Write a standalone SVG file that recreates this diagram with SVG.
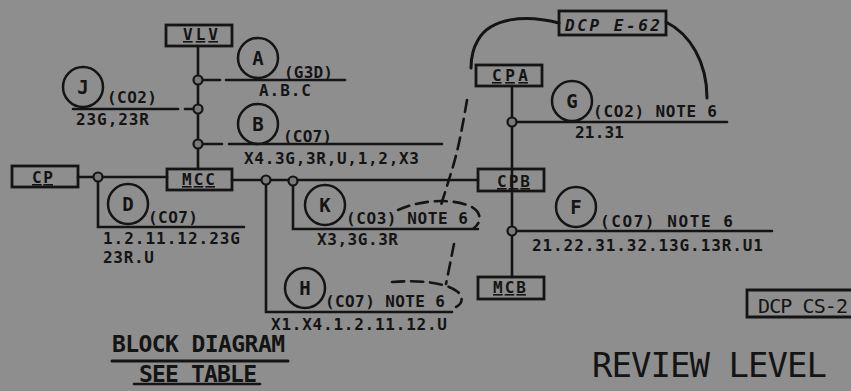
<svg xmlns="http://www.w3.org/2000/svg" width="851" height="391" viewBox="0 0 851 391">
<defs>
<style>
.bg{fill:#8e8e8e}
.ln{stroke:#141414;stroke-width:2.6;fill:none;stroke-linecap:round}
.box{stroke:#141414;stroke-width:2.8;fill:none}
.jn{stroke:#141414;stroke-width:2.2;fill:#7a7a7a}
.cir{stroke:#141414;stroke-width:2.5;fill:none}
.t{font-family:"DejaVu Sans Mono","Liberation Mono",monospace;font-size:16px;font-weight:bold;fill:#141414}
.tb{font-family:"DejaVu Sans Mono","Liberation Mono",monospace;font-size:16px;font-weight:bold;fill:#141414;text-decoration:underline}
.tc{font-family:"DejaVu Sans Mono","Liberation Mono",monospace;font-size:19px;font-weight:bold;fill:#141414;text-anchor:middle}
.big{font-family:"DejaVu Sans Mono","Liberation Mono",monospace;font-size:23px;font-weight:bold;fill:#141414}
.ann{stroke:#141414;stroke-width:3;fill:none;stroke-linecap:round}
.dash{stroke:#141414;stroke-width:2.6;fill:none;stroke-dasharray:12 7;stroke-linecap:round}
</style>
</defs>
<rect class="bg" x="0" y="0" width="851" height="391"/>

<g id="connectors">
  <line class="ln" x1="198" y1="46" x2="198" y2="169"/>
  <line class="ln" x1="78" y1="177" x2="167" y2="177"/>
  <line class="ln" x1="232" y1="180" x2="478" y2="180"/>
  <line class="ln" x1="512" y1="86" x2="512" y2="277"/>
  <line class="ln" x1="203" y1="80" x2="220" y2="80"/>
  <line class="ln" x1="226" y1="80" x2="345" y2="80"/>
  <line class="ln" x1="73" y1="109" x2="178" y2="109"/>
  <line class="ln" x1="185" y1="109" x2="193" y2="109"/>
  <line class="ln" x1="203" y1="144" x2="222" y2="144"/>
  <line class="ln" x1="229" y1="144" x2="442" y2="144"/>
  <polyline class="ln" points="98,182 98,227 244,227"/>
  <polyline class="ln" points="293,185 293,229 478,229"/>
  <polyline class="ln" points="266,185 266,312 452,312"/>
  <line class="ln" x1="517" y1="122" x2="727" y2="122"/>
  <line class="ln" x1="516" y1="231" x2="772" y2="231"/>
  <circle class="jn" cx="198" cy="80" r="4.5"/>
  <circle class="jn" cx="198" cy="109" r="4.5"/>
  <circle class="jn" cx="198" cy="144" r="4.5"/>
  <circle class="jn" cx="98" cy="177" r="4.5"/>
  <circle class="jn" cx="266" cy="180" r="4.5"/>
  <circle class="jn" cx="293" cy="181" r="4.5"/>
  <circle class="jn" cx="512" cy="122" r="4.5"/>
  <circle class="jn" cx="512" cy="231" r="4.5"/>
</g>

<g id="annotations">
  <path class="ann" d="M559,23 C525,14 490,18 478,40 C472,50 471,60 471,68"/>
  <path class="ann" d="M666,22 C690,34 707,62 707,98"/>
  <path class="dash" d="M467,100 C462,130 458,150 452,170 L441,205"/>
  <path class="dash" d="M398,210 C420,200 450,198 470,206 C482,212 482,222 474,228"/>
  <path class="dash" d="M454,244 L446,284"/>
  <path class="dash" d="M392,282 C420,280 445,282 458,292 C464,298 462,304 456,307"/>
</g>

<g id="node-VLV"><rect class="box" x="166" y="25" width="66" height="21"/><text class="tb" x="183" y="40" textLength="35">VLV</text></g>
<g id="node-CP"><rect class="box" x="12" y="166" width="66" height="21"/><text class="tb" x="32" y="183" textLength="21">CP</text></g>
<g id="node-MCC"><rect class="box" x="167" y="169" width="65" height="21"/><text class="tb" x="182" y="185" textLength="33">MCC</text></g>
<g id="node-CPA"><rect class="box" x="476" y="65" width="66" height="21"/><text class="tb" x="492" y="81" textLength="36">CPA</text></g>
<g id="node-CPB"><rect class="box" x="478" y="169" width="66" height="22"/><text class="tb" x="497" y="187" textLength="33">CPB</text></g>
<g id="node-MCB"><rect class="box" x="478" y="277" width="66" height="22"/><text class="tb" x="493" y="293" textLength="33">MCB</text></g>
<g id="node-DCPE62"><rect class="box" x="559" y="11" width="107" height="24"/><text class="t" x="565" y="31" font-style="italic" textLength="95">DCP E-62</text></g>
<g id="node-DCPCS2"><polyline class="box" points="860,290 747,290 747,317 860,317"/><text class="t" x="758" y="313" textLength="90" style="font-size:20px;font-weight:normal">DCP CS-2</text></g>

<g id="node-A"><circle class="cir" cx="258" cy="58" r="20"/><text class="tc" x="258" y="65">A</text>
  <text class="t" x="284" y="78" textLength="49">(G3D)</text><text class="t" x="259" y="96" textLength="52">A.B.C</text></g>
<g id="node-J"><circle class="cir" cx="83" cy="87" r="20"/><text class="tc" x="83" y="94">J</text>
  <text class="t" x="107" y="103" textLength="50">(CO2)</text><text class="t" x="76" y="125" textLength="73">23G,23R</text></g>
<g id="node-B"><circle class="cir" cx="258" cy="124" r="20"/><text class="tc" x="258" y="131">B</text>
  <text class="t" x="283" y="142" textLength="49">(CO7)</text><text class="t" x="244" y="164" textLength="175">X4.3G,3R,U,1,2,X3</text></g>
<g id="node-D"><circle class="cir" cx="128" cy="204" r="20"/><text class="tc" x="128" y="211">D</text>
  <text class="t" x="148" y="223" textLength="50">(CO7)</text><text class="t" x="103" y="243.5" textLength="137">1.2.11.12.23G</text><text class="t" x="103" y="263" textLength="51">23R.U</text></g>
<g id="node-K"><circle class="cir" cx="325" cy="205" r="20"/><text class="tc" x="325" y="212">K</text>
  <text class="t" x="346" y="224" textLength="122">(CO3) NOTE 6</text><text class="t" x="317" y="245" textLength="81">X3,3G.3R</text></g>
<g id="node-H"><circle class="cir" cx="305" cy="288" r="20"/><text class="tc" x="305" y="295">H</text>
  <text class="t" x="325" y="307" textLength="120">(CO7) NOTE 6</text><text class="t" x="271" y="330" textLength="176">X1.X4.1.2.11.12.U</text></g>
<g id="node-G"><circle class="cir" cx="572" cy="101" r="20"/><text class="tc" x="572" y="108">G</text>
  <text class="t" x="593" y="117" textLength="124">(CO2) NOTE 6</text><text class="t" x="575" y="138" textLength="49">21.31</text></g>
<g id="node-F"><circle class="cir" cx="576" cy="207" r="20"/><text class="tc" x="576" y="214">F</text>
  <text class="t" x="600" y="227" textLength="133">(CO7) NOTE 6</text><text class="t" x="532" y="251" textLength="231">21.22.31.32.13G.13R.U1</text></g>

<g id="titles">
  <text class="big" x="112" y="352" textLength="173">BLOCK DIAGRAM</text>
  <line class="ln" x1="112" y1="361" x2="288" y2="361" style="stroke-width:3"/>
  <text class="big" x="139" y="382" textLength="118">SEE TABLE</text>
  <line class="ln" x1="134" y1="384" x2="260" y2="384"/>
  <text class="big" x="592" y="377" textLength="235" style="font-size:34px;font-weight:normal">REVIEW LEVEL</text>
</g>
</svg>
